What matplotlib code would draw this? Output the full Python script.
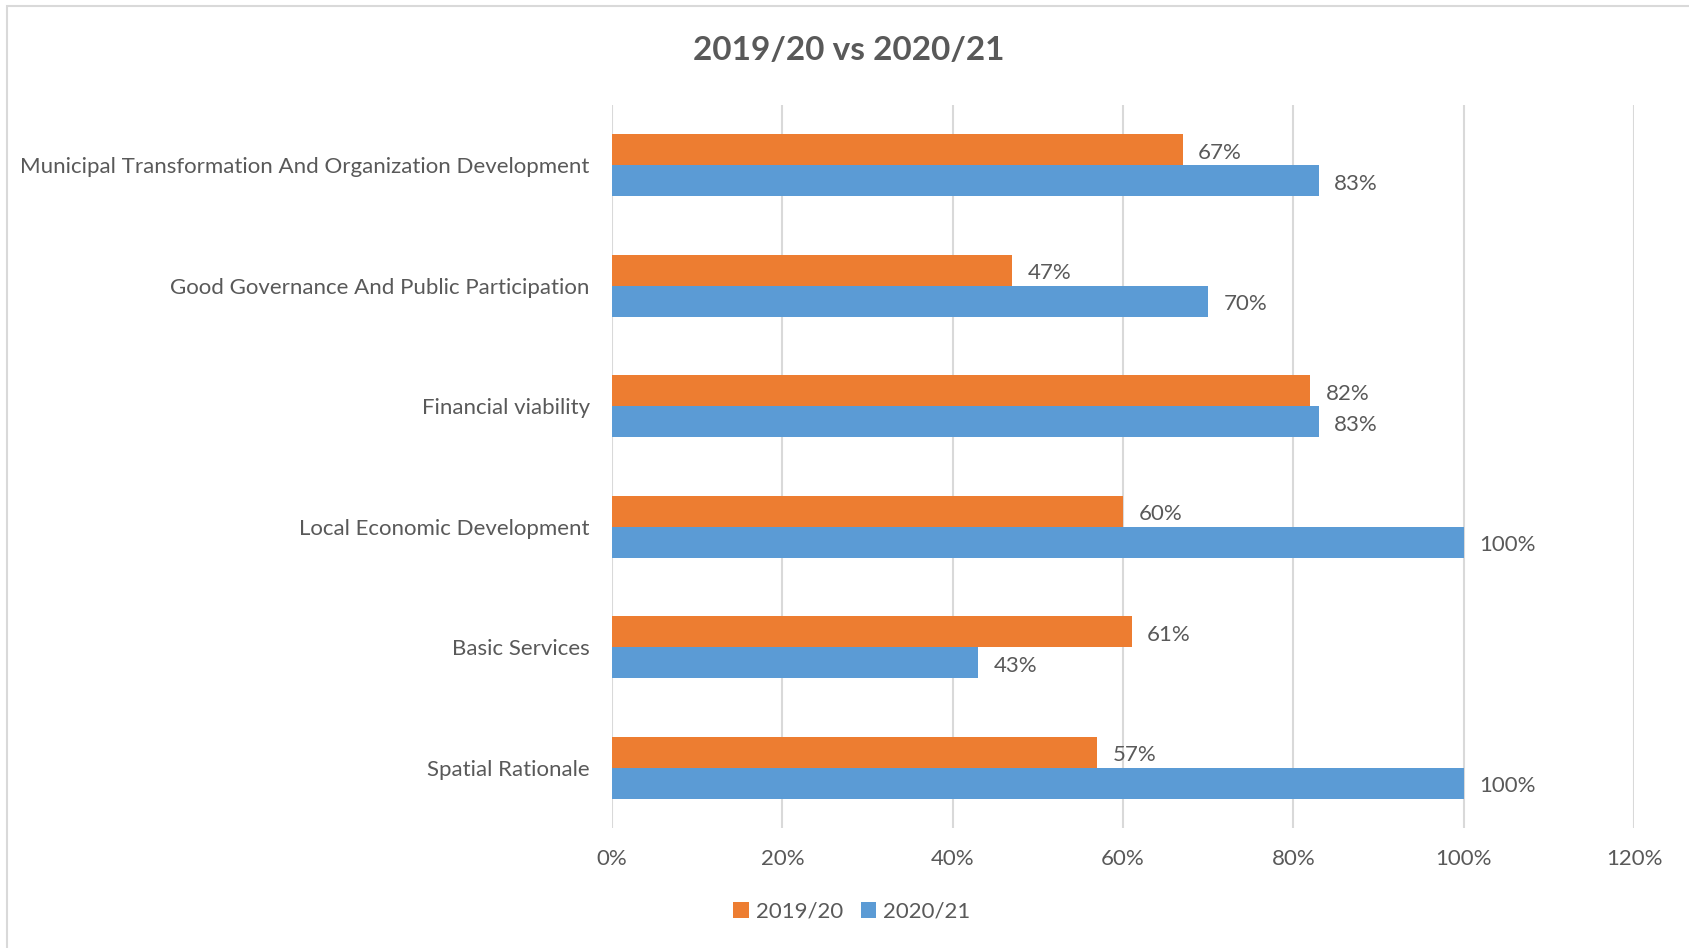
import matplotlib.pyplot as plt
import numpy as np

categories = ["Spatial Rationale", "Basic Services", "Local Economic Development",
              "Financial viability", "Good Governance And Public Participation",
              "Municipal Transformation And Organization Development"]
y2019 = [57, 61, 60, 82, 47, 67]
y2020 = [100, 43, 100, 83, 70, 83]
xticks = [0, 20, 40, 60, 80, 100, 120]

plt.rcParams['font.family'] = ['Lato', 'DejaVu Sans']
grey = '#595959'

fig = plt.figure(figsize=(16.9, 9.48), dpi=100)
# outer chart border
fig.patches.append(plt.Rectangle((7 / 1690, -0.01), 1.02, (948 - 6) / 948 + 0.01,
                                 transform=fig.transFigure, fill=False,
                                 edgecolor='#d9d9d9', linewidth=1.5))
ax = fig.add_axes([612 / 1690, 1 - 828 / 948, (1634 - 612) / 1690, (828 - 105) / 948])

y = np.arange(len(categories))
h = 0.257
b1 = ax.barh(y + h / 2, y2019, height=h, color='#ED7D31', label='2019/20', zorder=3)
b2 = ax.barh(y - h / 2, y2020, height=h, color='#5B9BD5', label='2020/21', zorder=3)

for bars, vals in ((b1, y2019), (b2, y2020)):
    for bar, v in zip(bars, vals):
        ax.annotate(f"{v}%", (bar.get_width(), bar.get_y() + bar.get_height() / 2),
                    xytext=(11, -2), textcoords='offset points', va='center', ha='left',
                    fontsize=16, color=grey)

ax.set_xlim(0, 120)
ax.set_ylim(-0.5, len(categories) - 0.5)
ax.set_xticks(xticks)
ax.set_xticklabels([f"{t}%" for t in xticks])
ax.set_yticks(y)
ax.set_yticklabels(categories)
ax.tick_params(axis='both', length=0, labelsize=16, labelcolor=grey)
ax.tick_params(axis='x', pad=15)
ax.tick_params(axis='y', pad=16)
ax.grid(axis='x', color='#d9d9d9', linewidth=1.5, zorder=0)
for s in ax.spines.values():
    s.set_visible(False)

fig.text(0.502, 1 - 50 / 948, "2019/20 vs 2020/21", ha='center', va='center',
         fontsize=24, fontweight='bold', color=grey)

fig.legend(handles=[b1, b2], loc='center', bbox_to_anchor=(0.504, 1 - 912 / 948),
           ncol=2, frameon=False, fontsize=16, labelcolor=grey,
           handlelength=0.7, handleheight=0.7, handletextpad=0.3, columnspacing=0.8)

fig.savefig("out.png", dpi=100)
